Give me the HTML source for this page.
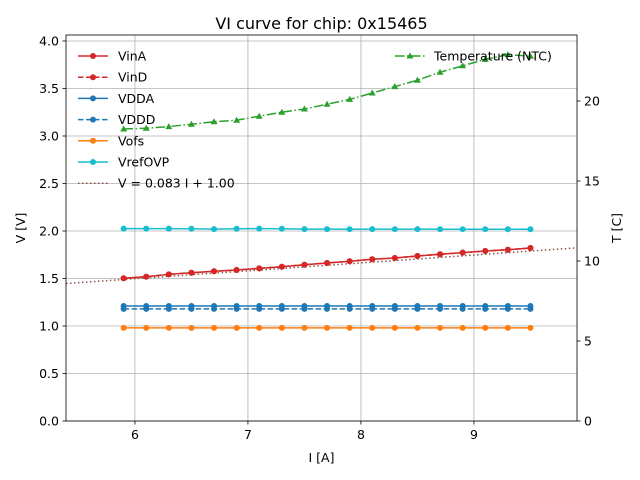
<!DOCTYPE html>
<html><head><meta charset="utf-8"><style>
body{margin:0;background:#fff}
svg{display:block;font-family:"DejaVu Sans","Liberation Sans",sans-serif}
</style></head><body>
<svg id="chart" width="640" height="480" viewBox="0 0 640 480" xmlns="http://www.w3.org/2000/svg">
<text x="321.5" y="29" font-size="16" text-anchor="middle">VI curve for chip: 0x15465</text>
<g id="grid"></g><g id="series"></g><g id="axes"></g><g id="legend"></g>
</svg>
<script>
const currents=[5.9,6.1,6.3,6.5,6.7,6.9,7.1,7.3,7.5,7.7,7.9,8.1,8.3,8.5,8.7,8.9,9.1,9.3,9.5];
const vinA=[1.502,1.519,1.544,1.561,1.576,1.589,1.607,1.624,1.645,1.663,1.681,1.702,1.716,1.737,1.755,1.772,1.789,1.803,1.821];
const vinD=[1.502,1.519,1.544,1.561,1.576,1.589,1.607,1.624,1.645,1.663,1.681,1.702,1.716,1.737,1.755,1.772,1.789,1.803,1.821];
const vdda=[1.21,1.21,1.21,1.21,1.21,1.21,1.21,1.21,1.21,1.21,1.21,1.21,1.21,1.21,1.21,1.21,1.21,1.21,1.21];
const vddd=[1.18,1.18,1.18,1.18,1.18,1.18,1.18,1.18,1.18,1.18,1.18,1.18,1.18,1.18,1.18,1.18,1.18,1.18,1.18];
const vofs=[0.98,0.98,0.98,0.98,0.98,0.98,0.98,0.98,0.98,0.98,0.98,0.98,0.98,0.98,0.98,0.98,0.98,0.98,0.98];
const vrefovp=[2.025,2.025,2.025,2.023,2.02,2.024,2.025,2.023,2.02,2.02,2.019,2.02,2.019,2.02,2.019,2.019,2.019,2.018,2.018];
const temperature=[18.25,18.3,18.4,18.55,18.7,18.8,19.05,19.3,19.5,19.8,20.1,20.5,20.9,21.3,21.8,22.2,22.6,22.9,22.8];
const fitSlope=0.083, fitIntercept=1.00;
const xTicks=[6,7,8,9];
const yTicks=[0,0.5,1,1.5,2,2.5,3,3.5,4];
const tTicks=[0,5,10,15,20];

const L=66,R=577,T=35,B=421;
const XMIN=5.39,XMAX=9.912,YMIN=0,YMAX=4.063,TMIN=0,TMAX=24.125;
const sx=v=>L+(v-XMIN)/(XMAX-XMIN)*(R-L);
const sy=v=>B-(v-YMIN)/(YMAX-YMIN)*(B-T);
const st=v=>B-(v-TMIN)/(TMAX-TMIN)*(B-T);
const NS="http://www.w3.org/2000/svg";
function mk(tag,attrs,parent,txt){const e=document.createElementNS(NS,tag);for(const k in attrs)e.setAttribute(k,attrs[k]);if(txt!==undefined)e.textContent=txt;parent.appendChild(e);return e;}
const grid=document.getElementById('grid'),axes=document.getElementById('axes'),ser=document.getElementById('series'),leg=document.getElementById('legend');

xTicks.forEach(v=>{const x=sx(v);
 const g=mk('line',{x1:x,x2:x,y1:T,y2:B,stroke:'#b0b0b0','stroke-width':0.8},grid);
 
 mk('line',{x1:x,x2:x,y1:B,y2:B+3.5,stroke:'#000','stroke-width':0.8},axes);
 const t=mk('text',{x:x,y:B+18,'font-size':12.5,'text-anchor':'middle'},axes,String(v));
 });
yTicks.forEach(v=>{const y=sy(v);
 const g=mk('line',{x1:L,x2:R,y1:y,y2:y,stroke:'#b0b0b0','stroke-width':0.8},grid);
 
 mk('line',{x1:L-3.5,x2:L,y1:y,y2:y,stroke:'#000','stroke-width':0.8},axes);
 const t=mk('text',{x:L-7,y:y+4.5,'font-size':12.5,'text-anchor':'end'},axes,v.toFixed(1));
 });
tTicks.forEach(v=>{const y=st(v);
 mk('line',{x1:R,x2:R+3.5,y1:y,y2:y,stroke:'#000','stroke-width':0.8},axes);
 const t=mk('text',{x:R+7,y:y+4.5,'font-size':12.5},axes,String(v));
 });
const fr=mk('rect',{x:L,y:T,width:R-L,height:B-T,fill:'none',stroke:'#000','stroke-width':0.8},axes);

let t1=mk('text',{x:(L+R)/2,y:462,'font-size':12.5,'text-anchor':'middle'},axes,'I [A]');

let t2=mk('text',{x:25,y:(T+B)/2,'font-size':12.5,'text-anchor':'middle',transform:`rotate(-90 25 ${(T+B)/2})`},axes,'V [V]');

let t3=mk('text',{x:621,y:(T+B)/2,'font-size':12.5,'text-anchor':'middle',transform:`rotate(-90 621 ${(T+B)/2})`},axes,'T [C]');


const fl=mk('line',{x1:sx(XMIN),y1:sy(fitSlope*XMIN+fitIntercept),x2:sx(XMAX),y2:sy(fitSlope*XMAX+fitIntercept),stroke:'#8c564b','stroke-width':1.5,'stroke-dasharray':'1.5 2.5'},ser);


function series(name,vals,color,dash,scale,marker){
 const g=mk('g',{},ser);
 
 const pts=vals.map((v,i)=>sx(currents[i])+','+scale(v)).join(' ');
 mk('polyline',{points:pts,fill:'none',stroke:color,'stroke-width':1.5,'stroke-dasharray':dash||'none'},g);
 vals.forEach((v,i)=>{const x=sx(currents[i]),y=scale(v);
  if(marker==='tri')mk('polygon',{points:`${x},${y-3.5} ${x-3.5},${y+2.5} ${x+3.5},${y+2.5}`,fill:color},g);
  else mk('circle',{cx:x,cy:y,r:3,fill:color},g);});
}
series('vrefovp-series',vrefovp,'#17becf',null,sy);
series('vofs-series',vofs,'#ff7f0e',null,sy);
series('vdda-series',vdda,'#1f77b4',null,sy);
series('vddd-series',vddd,'#1f77b4','5.5 2.5',sy);
series('vina-series',vinA,'#d62728',null,sy);
series('vind-series',vinD,'#d62728','5.5 2.5',sy);
series('temperature-series',temperature,'#2ca02c','9.5 2.5 1.5 2.5',st,'tri');

const items=[['VinA','#d62728',null,'c'],['VinD','#d62728','5.5 2.5','c'],['VDDA','#1f77b4',null,'c'],['VDDD','#1f77b4','5.5 2.5','c'],['Vofs','#ff7f0e',null,'c'],['VrefOVP','#17becf',null,'c'],['V = 0.083 I + 1.00','#8c564b','1.5 2.5',null]];
items.forEach((it,i)=>{const y=56+i*21.2;
 const g=mk('g',{},leg);
 
 mk('line',{x1:78,x2:108,y1:y,y2:y,stroke:it[1],'stroke-width':1.5,'stroke-dasharray':it[2]||'none'},g);
 if(it[3])mk('circle',{cx:93,cy:y,r:3,fill:it[1]},g);
 mk('text',{x:118,y:y+4.5,'font-size':12.5},g,it[0]);});
const tg=mk('g',{},leg);

mk('line',{x1:395,x2:425,y1:56,y2:56,stroke:'#2ca02c','stroke-width':1.5,'stroke-dasharray':'9.5 2.5 1.5 2.5'},tg);
mk('polygon',{points:'410,52.5 406.5,58.5 413.5,58.5',fill:'#2ca02c'},tg);
mk('text',{x:434,y:60.5,'font-size':12.5},tg,'Temperature (NTC)');
</script>
</body></html>
